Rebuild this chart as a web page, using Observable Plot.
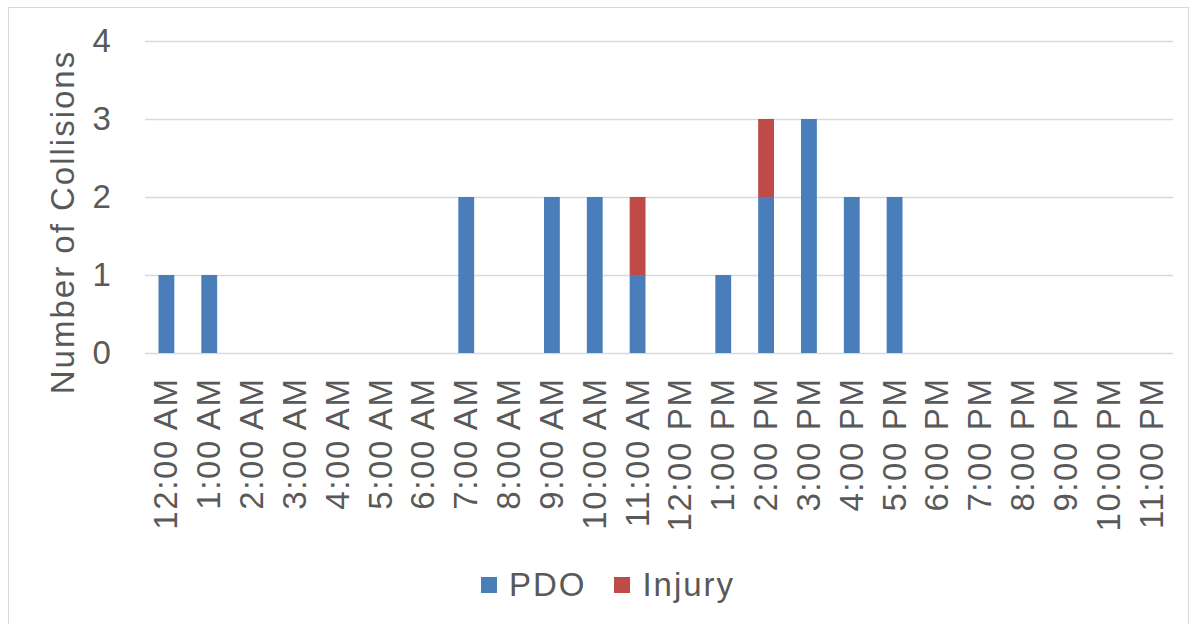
<!DOCTYPE html>
<html>
<head>
<meta charset="utf-8">
<script src="https://cdn.jsdelivr.net/npm/d3@7"></script>
<script src="https://cdn.jsdelivr.net/npm/@observablehq/plot@0.6"></script>
<style>
  html, body { margin: 0; padding: 0; background: #fff; }
  body { width: 1194px; height: 624px; position: relative; overflow: hidden; font-family: "Liberation Sans", Arial, sans-serif; }
  #frame { position: absolute; left: 8px; top: 7px; width: 1181px; height: 640px; border: 1.5px solid #d9d9d9; box-sizing: border-box; }
  #chart { position: absolute; left: 0; top: 0; }
  #chart svg text { letter-spacing: 1.6px; }
  #ytitle { position: absolute; left: 63px; top: 222px; transform: translate(-50%, -50%) rotate(-90deg); white-space: nowrap; font-size: 33px; letter-spacing: 2px; color: #595959; }
  #legend { position: absolute; top: 566px; left: 0; width: 1194px; display: flex; justify-content: center; align-items: center; font-size: 33px; letter-spacing: 2px; color: #595959; padding-left: 22px; box-sizing: border-box; }
  .sw { display: inline-block; width: 16px; height: 16px; margin-right: 12px; }
  .item { display: flex; align-items: center; margin: 0 28px 0 0; }
  .item:last-child { margin-right: 0; }
</style>
</head>
<body>
<div id="frame"></div>
<div id="chart"></div>
<div id="ytitle">Number of Collisions</div>
<div id="legend"></div>
<script>
const hours = ["12:00 AM","1:00 AM","2:00 AM","3:00 AM","4:00 AM","5:00 AM","6:00 AM","7:00 AM","8:00 AM","9:00 AM","10:00 AM","11:00 AM",
               "12:00 PM","1:00 PM","2:00 PM","3:00 PM","4:00 PM","5:00 PM","6:00 PM","7:00 PM","8:00 PM","9:00 PM","10:00 PM","11:00 PM"];
const pdo    = [1,1,0,0,0,0,0,2,0,2,2,1,0,1,2,3,2,2,0,0,0,0,0,0];
const injury = [0,0,0,0,0,0,0,0,0,0,0,1,0,0,1,0,0,0,0,0,0,0,0,0];
const seriesNames = ["PDO","Injury"];
const seriesColors = ["#4a7ebb","#be4b48"];
const yTicks = [0,1,2,3,4];

const rows = [];
hours.forEach((h, i) => {
  rows.push({hour: h, type: "PDO", value: pdo[i]});
  rows.push({hour: h, type: "Injury", value: injury[i]});
});

const fontSize = 33;
const chart = Plot.plot({
  width: 1194,
  height: 545,
  marginLeft: 145,
  marginRight: 21,
  marginTop: 41,
  marginBottom: 192,
  style: {fontFamily: '"Liberation Sans", Arial, sans-serif', background: "transparent", color: "#595959"},
  x: {domain: hours, paddingInner: 0.63, paddingOuter: 0.315, round: false, label: null},
  y: {domain: [0, 4], label: null},
  color: {domain: seriesNames, range: seriesColors},
  marks: [
    Plot.gridY(yTicks, {stroke: "#d9d9d9", strokeOpacity: 1, strokeWidth: 1.5}),
    Plot.barY(rows, Plot.stackY({x: "hour", y: "value", fill: "type", order: seriesNames, inset: 0})),
    Plot.axisX({tickRotate: -90, tickSize: 0, tickPadding: 24, fontSize: fontSize, fill: "#595959", label: null}),
    Plot.axisY(yTicks, {tickSize: 0, tickPadding: 33, tickFormat: d => String(d), fontSize: fontSize, fill: "#595959", label: null})
  ]
});
document.getElementById("chart").appendChild(chart);

const legend = document.getElementById("legend");
seriesNames.forEach((n, i) => {
  const it = document.createElement("span");
  it.className = "item";
  const sw = document.createElement("span");
  sw.className = "sw";
  sw.style.background = seriesColors[i];
  const t = document.createElement("span");
  t.textContent = n;
  it.appendChild(sw); it.appendChild(t);
  legend.appendChild(it);
});
</script>
</body>
</html>
